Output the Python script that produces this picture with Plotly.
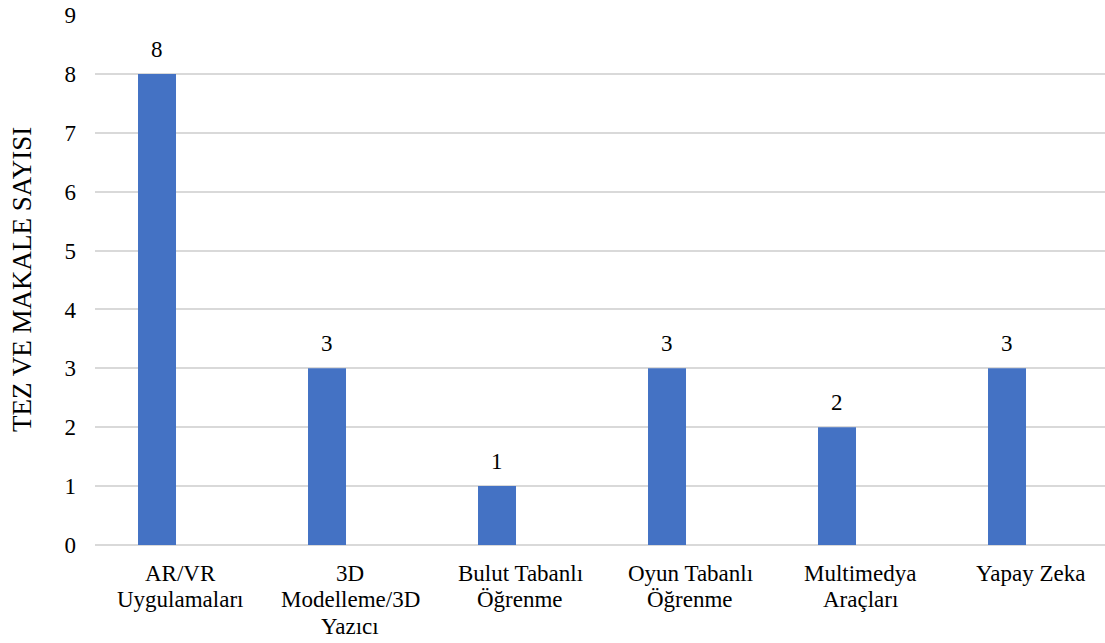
import plotly.graph_objects as go

categories = ["AR/VR<br>Uygulamaları", "3D<br>Modelleme/3D<br>Yazıcı", "Bulut Tabanlı<br>Öğrenme",
              "Oyun Tabanlı<br>Öğrenme", "Multimedya<br>Araçları", "Yapay Zeka"]
values = [8, 3, 1, 3, 2, 3]
y_ticks = list(range(0, 10))
y_title = "TEZ VE MAKALE SAYISI"

FONT = "Liberation Serif"
FS = 23
TITLE_FS = 27
LINE_H = 26.5
BAR_W = 0.2235
BAR_OFF = -0.247

fig = go.Figure()
xs = list(range(len(categories)))
fig.add_trace(go.Bar(
    x=xs, y=values,
    width=BAR_W, offset=BAR_OFF,
    marker=dict(color="#4472C4", line=dict(width=0)),
    hoverinfo="skip",
))

# data labels
for i, v in zip(xs, values):
    fig.add_annotation(x=i + BAR_OFF + BAR_W / 2, y=v, text=str(v), showarrow=False,
                       xref="x", yref="y", yanchor="bottom", yshift=10,
                       font=dict(family=FONT, size=FS, color="#000000"))

# category labels (one annotation per line, Excel-like line spacing)
for i, cat in zip(xs, categories):
    for k, line in enumerate(cat.split("<br>")):
        fig.add_annotation(x=i, y=0, xref="x", yref="paper", text=line, showarrow=False,
                           xanchor="center", yanchor="top", yshift=-(13.5 + LINE_H * k),
                           font=dict(family=FONT, size=FS, color="#000000"))

fig.add_annotation(x=-(95 - 22) / 1010, y=0.5, xref="paper", yref="paper",
                   text=y_title, textangle=-90, showarrow=False,
                   xanchor="center", yanchor="middle",
                   font=dict(family=FONT, size=TITLE_FS, color="#000000"))

fig.update_layout(
    width=1105, height=643,
    margin=dict(l=95, r=0, t=15, b=98, pad=0),
    paper_bgcolor="white", plot_bgcolor="white",
    showlegend=False,
    font=dict(family=FONT, size=FS, color="#000000"),
    xaxis=dict(
        range=[-0.5, -0.5 + 1010 / 170],
        tickmode="array", tickvals=xs, ticktext=[""] * len(xs),
        showgrid=False, zeroline=False, showline=False, ticks="",
        showticklabels=False,
    ),
    yaxis=dict(
        range=[0, 9], tickmode="array", tickvals=y_ticks,
        showgrid=True, gridcolor="#d9d9d9", gridwidth=1.5,
        zeroline=True, zerolinecolor="#d9d9d9", zerolinewidth=1.5,
        showline=False, ticks="",
        ticklabelstandoff=18,
        tickfont=dict(family=FONT, size=FS, color="#000000"),
    ),
)

fig.write_html("out.html")
